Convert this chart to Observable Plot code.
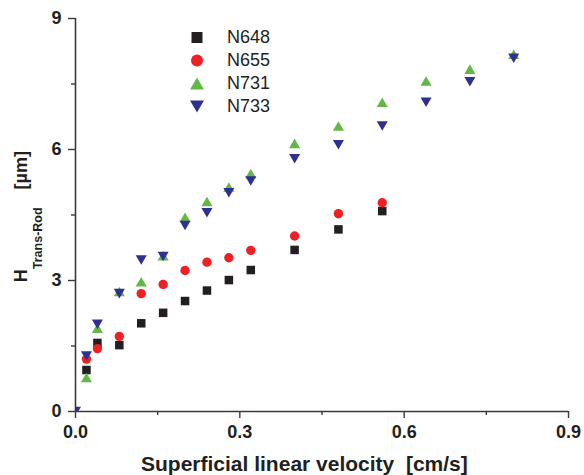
<!DOCTYPE html>
<html><head><meta charset="utf-8">
<script src="https://cdn.jsdelivr.net/npm/d3@7"></script>
<script src="https://cdn.jsdelivr.net/npm/@observablehq/plot@0.6"></script>
<style>
body{margin:0;background:#fff;}
#wrap{position:relative;width:584px;height:475px;font-family:"Liberation Sans",Arial,sans-serif;color:#231f20;}
#legend{position:absolute;left:186px;top:26px;}
.row{display:flex;align-items:center;height:23px;font-size:18px;}
.row svg{width:22px;height:23px;margin-right:19px;}
</style></head><body><div id="wrap"></div>
<script>
const series = ["N648", "N655", "N731", "N733"];
const colors = ["#231f20", "#ed2024", "#62b846", "#2e3191"];
const x648 = [0.02, 0.04, 0.08, 0.12, 0.16, 0.20, 0.24, 0.28, 0.32, 0.40, 0.48, 0.56];
const y648 = [0.95, 1.57, 1.52, 2.02, 2.26, 2.53, 2.77, 3.01, 3.24, 3.70, 4.17, 4.59];
const x655 = [0.02, 0.04, 0.08, 0.12, 0.16, 0.20, 0.24, 0.28, 0.32, 0.40, 0.48, 0.56];
const y655 = [1.20, 1.44, 1.72, 2.70, 2.91, 3.23, 3.42, 3.52, 3.69, 4.02, 4.53, 4.78];
const x731 = [0, 0.02, 0.04, 0.08, 0.12, 0.16, 0.20, 0.24, 0.28, 0.32, 0.40, 0.48, 0.56, 0.64, 0.72, 0.80];
const y731 = [0, 0.78, 1.91, 2.75, 2.97, 3.57, 4.45, 4.81, 5.14, 5.45, 6.14, 6.54, 7.08, 7.57, 7.84, 8.18];
const x733 = [0, 0.02, 0.04, 0.08, 0.12, 0.16, 0.20, 0.24, 0.28, 0.32, 0.40, 0.48, 0.56, 0.64, 0.72, 0.80];
const y733 = [0, 1.27, 2.00, 2.70, 3.47, 3.55, 4.26, 4.55, 5.01, 5.28, 5.79, 6.11, 6.54, 7.08, 7.55, 8.09];
const xTicks = [0, 0.3, 0.6, 0.9];
const xMinor = [0.15, 0.45, 0.75];
const yTicks = [0, 3, 6, 9];
const yMinor = [1.5, 4.5, 7.5];
const xLabel = "Superficial linear velocity  [cm/s]";
const yLabelMain = "H";
const yLabelSub = "Trans-Rod";
const yLabelUnit = "[µm]";

const triUp = {draw(ctx, size) {
  const s = Math.sqrt(size * 4 / Math.sqrt(3)), h = s * Math.sqrt(3) / 2;
  ctx.moveTo(0, -h / 2); ctx.lineTo(s / 2, h / 2); ctx.lineTo(-s / 2, h / 2); ctx.closePath();
}};
const triDown = {draw(ctx, size) {
  const s = Math.sqrt(size * 4 / Math.sqrt(3)), h = s * Math.sqrt(3) / 2;
  ctx.moveTo(0, h / 2); ctx.lineTo(s / 2, -h / 2); ctx.lineTo(-s / 2, -h / 2); ctx.closePath();
}};
const symbols = ["square", "circle", triUp, triDown];
const radii = [4.8, 4.7, 4.1, 4.1];
const xs = [x648, x655, x731, x733];
const ys = [y648, y655, y731, y733];

const axisColor = "#3a3a3a";
const marks = [];
series.forEach((name, i) => {
  const rows = xs[i].map((x, j) => ({x, y: ys[i][j]}));
  marks.push(Plot.dot(rows, {x: "x", y: "y", symbol: () => symbols[i], r: radii[i], fill: colors[i], stroke: "none", clip: true}));
});

const plot = Plot.plot({
  width: 584, height: 475,
  marginLeft: 75, marginRight: 16, marginTop: 18, marginBottom: 64,
  style: {fontFamily: '"Liberation Sans", Arial, sans-serif', color: "#231f20", background: "white"},
  x: {domain: [0, 0.9]},
  y: {domain: [0, 9]},
  symbol: {type: "identity"},
  marks: [
    Plot.axisX({ticks: xMinor, tickSize: 4, tickFormat: () => "", label: null, stroke: axisColor, strokeWidth: 1.4}),
    Plot.axisY({ticks: yMinor, tickSize: 4, tickFormat: () => "", label: null, stroke: axisColor, strokeWidth: 1.4}),
    Plot.axisX({ticks: xTicks, tickSize: 7, tickPadding: 7, tickFormat: d => d.toFixed(1), label: null, fontSize: 18, fontWeight: "bold", stroke: axisColor, strokeWidth: 1.4}),
    Plot.axisY({ticks: yTicks, tickSize: 7, tickPadding: 7, tickFormat: d => String(d), label: null, fontSize: 18, fontWeight: "bold", stroke: axisColor, strokeWidth: 1.4}),
    ...marks,
    Plot.ruleX([0], {stroke: axisColor, strokeWidth: 1.6}),
    Plot.ruleY([0], {stroke: axisColor, strokeWidth: 1.6})
  ]
});

const svg = d3.select(plot);
svg.append("text")
  .attr("x", 141).attr("y", 471)
  .attr("text-anchor", "start")
  .attr("fill", "#231f20")
  .style("font-size", "21px").style("font-weight", "bold").style("white-space", "pre")
  .text(xLabel);
const yl = svg.append("text")
  .attr("transform", "translate(27,151) rotate(-90)")
  .attr("text-anchor", "end")
  .attr("fill", "#231f20")
  .style("font-weight", "bold").style("white-space", "pre");
yl.append("tspan").style("font-size", "18px").text(yLabelMain);
yl.append("tspan").style("font-size", "12.5px").attr("dy", 15).text(yLabelSub);
yl.append("tspan").style("font-size", "18px").attr("dy", -15).attr("dx", 18).text(yLabelUnit);

const wrap = document.getElementById("wrap");
wrap.appendChild(plot);

const legend = document.createElement("div");
legend.id = "legend";
const legSizes = [[11, 11], [12, 12], [14, 12], [14, 12]];
series.forEach((name, i) => {
  const row = document.createElement("div");
  row.className = "row";
  const [w, h] = legSizes[i];
  let shape;
  if (i === 0) shape = `<rect x="${11 - w / 2}" y="${11.5 - h / 2}" width="${w}" height="${h}" fill="${colors[i]}"/>`;
  else if (i === 1) shape = `<circle cx="11" cy="11.5" r="${w / 2}" fill="${colors[i]}"/>`;
  else if (i === 2) shape = `<path d="M11,${11.5 - h / 2}L${11 + w / 2},${11.5 + h / 2}L${11 - w / 2},${11.5 + h / 2}Z" fill="${colors[i]}"/>`;
  else shape = `<path d="M11,${11.5 + h / 2}L${11 + w / 2},${11.5 - h / 2}L${11 - w / 2},${11.5 - h / 2}Z" fill="${colors[i]}"/>`;
  row.innerHTML = `<svg viewBox="0 0 22 23">${shape}</svg><span>${name}</span>`;
  legend.appendChild(row);
});
wrap.appendChild(legend);
</script></body></html>
